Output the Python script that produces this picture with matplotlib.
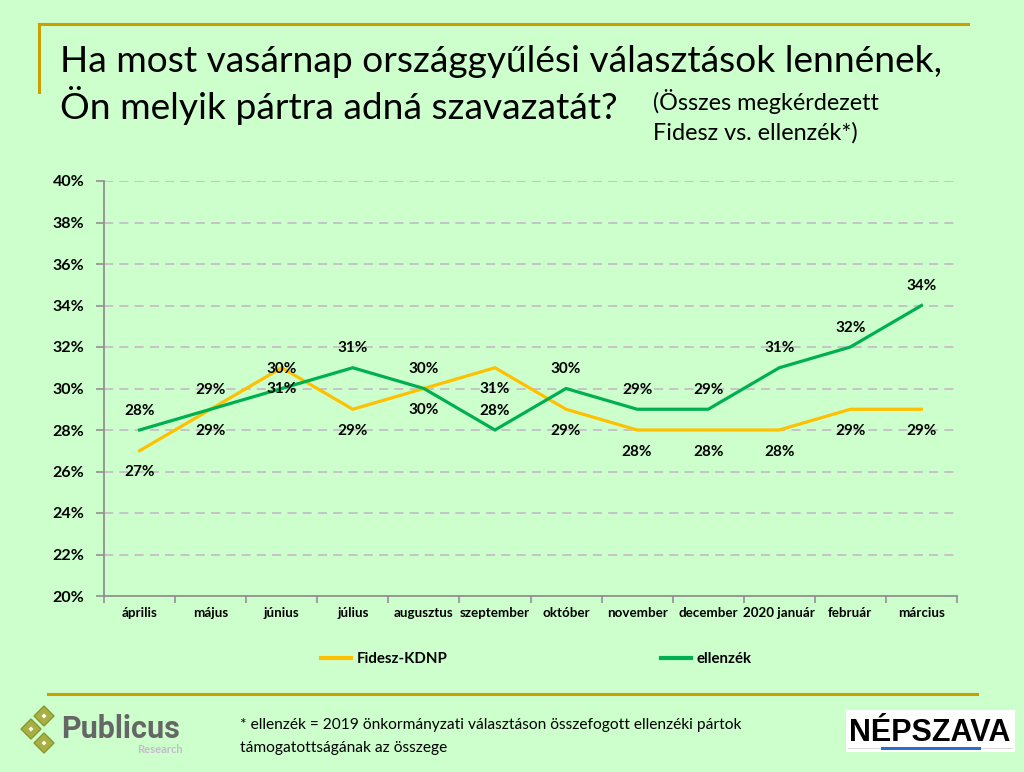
import matplotlib
matplotlib.use("Agg")
import matplotlib.pyplot as plt
from matplotlib.lines import Line2D
from matplotlib.patches import Polygon, Rectangle
from matplotlib.ticker import FixedLocator, NullFormatter

months = ["április", "május", "június", "július", "augusztus", "szeptember",
          "október", "november", "december", "2020 január", "február", "március"]
fidesz = [27, 29, 31, 29, 30, 31, 29, 28, 28, 28, 29, 29]
ellenzek = [28, 29, 30, 31, 30, 28, 30, 29, 29, 31, 32, 34]
yticks = list(range(20, 41, 2))

BG = "#CCFFCC"
GOLD = "#C9A000"
YEL = "#FFC000"
GRN = "#00B050"
FONT = "Lato"

plt.rcParams['font.family'] = [FONT, 'DejaVu Sans']

W, H = 1024, 772
fig = plt.figure(figsize=(W / 100, H / 100), dpi=100, facecolor=BG)

def fx(x):
    return x / W

def fy(y):
    return 1 - y / H

# decorative frame lines
fig.add_artist(Line2D([fx(39), fx(968)], [fy(24), fy(24)], color=GOLD, lw=2.2))
fig.add_artist(Line2D([fx(39), fx(39)], [fy(24), fy(92)], color=GOLD, lw=2.2))
fig.add_artist(Line2D([fx(48), fx(977)], [fy(694), fy(694)], color=GOLD, lw=2.2))

# titles
fig.text(fx(60), fy(72), "Ha most vasárnap országgyűlési választások lennének,",
         fontsize=26.7, va="baseline", ha="left", color="black")
fig.text(fx(60), fy(119), "Ön melyik pártra adná szavazatát?",
         fontsize=26.7, va="baseline", ha="left", color="black")
fig.text(fx(653), fy(110), "(Összes megkérdezett", fontsize=16.8,
         va="baseline", ha="left")
fig.text(fx(653), fy(140), "Fidesz vs. ellenzék*)", fontsize=16.8,
         va="baseline", ha="left")

# axes
ax = fig.add_axes([fx(104), fy(596), fx(957) - fx(104), fy(181) - fy(596)])
ax.set_facecolor(BG)
x = list(range(len(months)))
l1, = ax.plot(x, fidesz, color=YEL, lw=2.3, solid_joinstyle="miter", zorder=3)
l2, = ax.plot(x, ellenzek, color=GRN, lw=2.3, solid_joinstyle="miter", zorder=3)
ax.set_xlim(-0.5, len(months) - 0.5)
ax.set_ylim(20, 40)
ax.set_yticks(yticks)
ax.set_yticklabels([f"{v}%" for v in yticks], fontsize=11.5, fontweight="bold")
ax.set_xticks(x)
ax.set_xticklabels(months, fontsize=9.6, fontweight="bold")
ax.xaxis.set_minor_locator(FixedLocator([i - 0.5 for i in range(len(months) + 1)]))
ax.xaxis.set_minor_formatter(NullFormatter())
ax.tick_params(axis="x", which="major", length=0, pad=8)
ax.tick_params(axis="x", which="minor", length=5, color="#909090", width=1.2)
ax.tick_params(axis="y", length=6, color="#909090", width=1.2, pad=8)
for ylv in yticks[1:]:
    ax.axhline(ylv, color="#C4B4C8", lw=1.1, dashes=(6, 4), zorder=1)
for s in ["top", "right"]:
    ax.spines[s].set_visible(False)
for s in ["left", "bottom"]:
    ax.spines[s].set_color("#909090")
    ax.spines[s].set_linewidth(1.3)

for i, v in enumerate(ellenzek):
    ax.annotate(f"{v}%", (i, v), xytext=(0, 14), textcoords="offset points",
                ha="center", va="center", fontsize=11, fontweight="bold", zorder=4)
for i, v in enumerate(fidesz):
    ax.annotate(f"{v}%", (i, v), xytext=(0, -15.5), textcoords="offset points",
                ha="center", va="center", fontsize=11, fontweight="bold", zorder=4)

leg = fig.legend([l1, l2], ["Fidesz-KDNP", "ellenzék"], ncol=2, loc="center left",
                 bbox_to_anchor=(fx(321), fy(659)), frameon=False,
                 borderpad=0, borderaxespad=0,
                 prop={"weight": "bold", "size": 10.8},
                 handlelength=2.0, handletextpad=0.4, columnspacing=14.2)
for h in leg.get_lines():
    h.set_linewidth(3)

# footnote
fig.text(fx(240), fy(729), "* ellenzék = 2019 önkormányzati választáson összefogott ellenzéki pártok",
         fontsize=11.2, va="baseline", ha="left")
fig.text(fx(240), fy(752), "támogatottságának az összege",
         fontsize=11.2, va="baseline", ha="left")

# Publicus logo
for cx, cy in [(44, 716), (31, 729), (44, 743)]:
    r = 10
    fig.add_artist(Polygon([(fx(cx), fy(cy - r)), (fx(cx + r), fy(cy)),
                            (fx(cx), fy(cy + r)), (fx(cx - r), fy(cy))],
                           closed=True, transform=fig.transFigure,
                           facecolor="#A8B044", edgecolor="#8A9630", lw=1))
    fig.add_artist(Polygon([(fx(cx), fy(cy - 2.5)), (fx(cx + 2.5), fy(cy)),
                            (fx(cx), fy(cy + 2.5)), (fx(cx - 2.5), fy(cy))],
                           closed=True, transform=fig.transFigure,
                           facecolor="white", edgecolor="none"))
fig.text(fx(61), fy(738), "Publicus", fontsize=22, fontweight="bold",
         color="#666666", va="baseline", ha="left", family=["Roboto", "DejaVu Sans"])
fig.text(fx(183), fy(753), "Research", fontsize=8, fontweight="bold",
         color="#C8B8D0", va="baseline", ha="right")

# Népszava logo
fig.add_artist(Rectangle((fx(846), fy(752)), fx(1015) - fx(846), fy(710) - fy(752),
                         transform=fig.transFigure, facecolor="white", edgecolor="none"))
fig.text(fx(930), fy(741), "NÉPSZAVA", fontsize=22, fontweight="bold",
         color="black", va="baseline", ha="center",
         family=["Liberation Sans Narrow", "Liberation Sans", "DejaVu Sans"])
fig.add_artist(Rectangle((fx(848), fy(749)), fx(1013) - fx(848), fy(747.5) - fy(749),
                         transform=fig.transFigure, facecolor="#D8D8D8", edgecolor="none"))
fig.add_artist(Rectangle((fx(881), fy(749.5)), fx(981) - fx(881), fy(746.5) - fy(749.5),
                         transform=fig.transFigure, facecolor="#2A6FD0", edgecolor="none"))

fig.savefig("out.png", dpi=100, facecolor=BG)
